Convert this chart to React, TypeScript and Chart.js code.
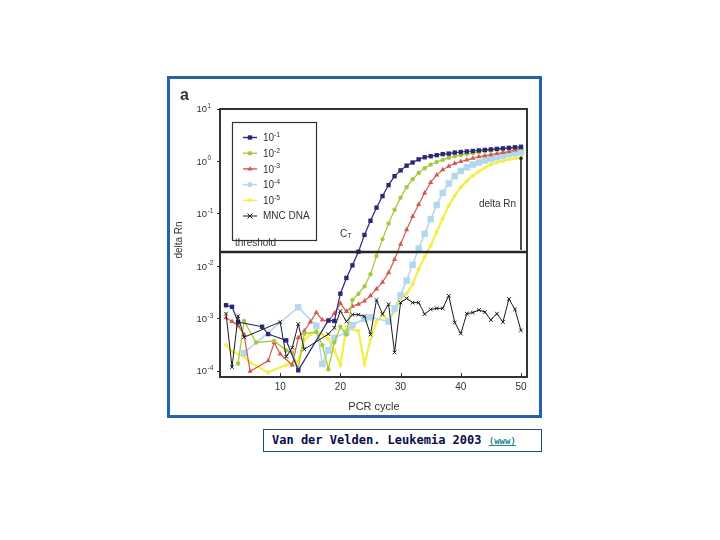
import React, { useEffect, useRef } from "react";
import { Chart, registerables } from "chart.js";

Chart.register(...registerables);

// PCR cycles (x categories)
const CYCLES = [
  1, 2, 3, 4, 5, 6, 7, 8, 9, 10, 11, 12, 13, 14, 15, 16, 17, 18, 19, 20, 21, 22, 23, 24, 25,
  26, 27, 28, 29, 30, 31, 32, 33, 34, 35, 36, 37, 38, 39, 40, 41, 42, 43, 44, 45, 46, 47, 48, 49, 50,
];

// log10(delta Rn), one per cycle (null = no marker)
const LOG_E1 = [
  -2.74, -2.77, -3.06, null, null, null, -3.15, -3.29, null, null, -3.41, null, -3.98, null, null, null, null, -3.03, -3.04, -2.52,
  -2.22, -1.98, -1.72, -1.4, -1.13, -0.88, -0.66, -0.45, -0.28, -0.17, -0.08, -0.02, 0.04, 0.08, 0.1, 0.12, 0.14, 0.15, 0.17, 0.18,
  0.19, 0.2, 0.21, 0.22, 0.23, 0.24, 0.25, 0.26, 0.27, 0.28,
];
const LOG_E2 = [
  null, null, -3.85, -3.04, null, -3.45, null, null, -3.42, null, -3.6, -3.64, -3.95, -3.28, null, -3.25, -3.5, -3.96, -3.45, -3.15,
  -3.3, -2.64, -2.52, -2.38, -2.15, -1.8, -1.48, -1.18, -0.92, -0.69, -0.49, -0.34, -0.22, -0.13, -0.06, -0.01, 0.03, 0.07, 0.1, 0.12,
  0.14, 0.16, 0.18, 0.2, 0.21, 0.22, 0.24, 0.25, 0.26, 0.27,
];
const LOG_E3 = [
  -2.98, -3.05, -3.13, -3.3, -4.0, null, null, -3.8, -3.45, -3.67, null, -3.88, -3.36, -3.23, -3.06, -2.88, -3.02, -3.04, -2.9, -2.7,
  -2.86, -2.76, -2.72, -2.66, -2.56, -2.43, -2.3, -2.12, -1.87, -1.58, -1.3, -1.05, -0.82, -0.6, -0.4, -0.26, -0.16, -0.09, -0.04, 0.0,
  0.03, 0.06, 0.09, 0.11, 0.13, 0.15, 0.17, 0.19, 0.22, 0.25,
];
const LOG_E4 = [
  null, null, null, -3.65, null, null, null, null, null, null, null, null, -2.78, null, null, -3.13, -3.86, -3.6, -3.36, null,
  -3.26, -3.12, null, -3.0, -2.97, null, null, -3.05, -2.8, -2.55, -2.27, -1.97, -1.66, -1.38, -1.1, -0.83, -0.6, -0.42, -0.28, -0.18,
  -0.11, -0.06, -0.02, 0.02, 0.05, 0.08, 0.11, 0.14, 0.16, 0.18,
];
const LOG_E5 = [
  -3.5, -3.62, null, -3.72, -3.83, null, null, -4.02, null, null, -3.88, null, -3.8, -3.4, -3.3, -3.23, -3.3, -3.38, -3.6, -3.88,
  -3.15, -3.2, -3.23, -3.86, -3.4, -3.05, -2.92, -3.04, -2.85, -2.6, -2.52, -2.34, -2.05, -1.82, -1.6, -1.35, -1.08, -0.84, -0.65, -0.49,
  -0.37, -0.27, -0.19, -0.12, -0.06, -0.02, 0.01, 0.04, 0.06, 0.09,
];
const LOG_MNC = [
  -2.9, -3.92, -2.95, -3.35, null, null, null, null, null, -3.06, -3.72, -3.55, -3.1, -3.58, null, null, null, -3.29, -3.17, -2.85,
  -3.05, -2.92, -2.92, -2.95, -3.3, -2.64, -2.91, -2.72, -3.64, -2.69, -2.61, -2.69, -2.69, -2.91, -2.82, -2.8, -2.8, -2.56, -3.07, -3.28,
  -2.9, -2.88, -2.83, -2.87, -3.02, -2.9, -3.06, -2.62, -2.82, -3.22,
];

const SERIES_LABELS = ["10-1", "10-2", "10-3", "10-4", "10-5", "MNC DNA"];
const SERIES_EXP = ["-1", "-2", "-3", "-4", "-5", ""];

const Y_TICKS = [1e-4, 1e-3, 1e-2, 1e-1, 1, 10];
const Y_TICK_EXP = ["-4", "-3", "-2", "-1", "0", "1"];
const X_TICKS = [10, 20, 30, 40, 50];

const THRESHOLD = 0.0189;
const DELTA_CYCLE = 50;
const DELTA_TOP = 1.2;

const STYLES = [
  { color: "#2c2878", shape: "rect", r: 3.1, lw: 1.2 },
  { color: "#a6c93c", shape: "circle", r: 2.2, lw: 1.3 },
  { color: "#d4594c", shape: "triangle", r: 3.0, lw: 1.2 },
  { color: "#b3d8ee", shape: "rect", r: 4.6, lw: 1.6 },
  { color: "#f2ee4a", shape: "circle", r: 2.0, lw: 2.2 },
  { color: "#1a1a1a", shape: "crossRot", r: 2.6, lw: 1 },
];

const LOGS = [LOG_E1, LOG_E2, LOG_E3, LOG_E4, LOG_E5, LOG_MNC];

function toPoints(logs: (number | null)[]) {
  return CYCLES.map((c, i) => ({ x: c, y: logs[i] === null ? null : Math.pow(10, logs[i] as number) }));
}

function marker(ctx: CanvasRenderingContext2D, shape: string, x: number, y: number, r: number, color: string) {
  ctx.save();
  ctx.fillStyle = color;
  ctx.strokeStyle = color;
  ctx.beginPath();
  if (shape === "rect") {
    const s = Math.SQRT1_2 * r;
    ctx.rect(x - s, y - s, 2 * s, 2 * s);
    ctx.fill();
  } else if (shape === "circle") {
    ctx.arc(x, y, r, 0, Math.PI * 2);
    ctx.fill();
  } else if (shape === "triangle") {
    ctx.moveTo(x, y - r);
    ctx.lineTo(x + r * 0.866, y + r * 0.5);
    ctx.lineTo(x - r * 0.866, y + r * 0.5);
    ctx.closePath();
    ctx.fill();
  } else if (shape === "crossRot") {
    const d = r * Math.SQRT1_2 * 1.2;
    ctx.lineWidth = 1;
    ctx.moveTo(x - d, y - d);
    ctx.lineTo(x + d, y + d);
    ctx.moveTo(x + d, y - d);
    ctx.lineTo(x - d, y + d);
    ctx.stroke();
  }
  ctx.restore();
}

const FONT = '"Liberation Sans", Arial, sans-serif';
const TEXT = "#333";

const decor = {
  id: "decor",
  afterDatasetsDraw(chart: any) {
    const { ctx, chartArea: a, scales } = chart;
    const x = scales.x;
    const y = scales.y;
    ctx.save();
    // threshold line
    const ty = y.getPixelForValue(THRESHOLD);
    ctx.strokeStyle = "#262626";
    ctx.lineWidth = 2.5;
    ctx.beginPath();
    ctx.moveTo(a.left, ty);
    ctx.lineTo(a.right, ty);
    ctx.stroke();
    // delta Rn bar
    const dx = x.getPixelForValue(DELTA_CYCLE);
    const dTop = y.getPixelForValue(DELTA_TOP);
    ctx.lineWidth = 1.6;
    ctx.strokeStyle = "#222";
    ctx.beginPath();
    ctx.moveTo(dx, dTop);
    ctx.lineTo(dx, ty - 2);
    ctx.moveTo(dx - 1.5, dTop + 2);
    ctx.lineTo(dx, dTop);
    ctx.lineTo(dx + 1.5, dTop + 2);
    ctx.stroke();
    // frame
    ctx.lineWidth = 2;
    ctx.strokeStyle = "#333";
    ctx.strokeRect(a.left, a.top, a.right - a.left, a.bottom - a.top);
    // inward x ticks
    ctx.lineWidth = 1;
    for (const t of X_TICKS) {
      const px = Math.round(x.getPixelForValue(t)) + 0.5;
      ctx.beginPath();
      ctx.moveTo(px, a.bottom);
      ctx.lineTo(px, a.bottom - 4);
      ctx.stroke();
    }
    // y tick labels (10 with exponent)
    ctx.fillStyle = TEXT;
    ctx.textBaseline = "middle";
    Y_TICKS.forEach((v, i) => {
      const py = y.getPixelForValue(v);
      ctx.font = `9.5px ${FONT}`;
      ctx.textAlign = "right";
      ctx.fillText("10", a.left - 13, py + 0.5);
      ctx.font = `6.5px ${FONT}`;
      ctx.textAlign = "left";
      ctx.fillText(Y_TICK_EXP[i], a.left - 12.5, py - 3);
    });
    // legend box
    const lx = 232, ltop = 122, lw = 84, lh = 118;
    ctx.fillStyle = "#fff";
    ctx.fillRect(lx, ltop, lw, lh);
    ctx.strokeStyle = "#333";
    ctx.lineWidth = 1.2;
    ctx.strokeRect(lx + 0.5, ltop + 0.5, lw, lh);
    SERIES_LABELS.forEach((lab, i) => {
      const st = STYLES[i];
      const ry = 137.5 + i * 15.7;
      ctx.strokeStyle = st.color;
      ctx.lineWidth = i === 5 ? 1 : 1.4;
      ctx.beginPath();
      ctx.moveTo(243, ry);
      ctx.lineTo(257, ry);
      ctx.stroke();
      marker(ctx, st.shape, 250, ry, st.shape === "crossRot" ? 3 : Math.min(st.r, 3.2), st.color);
      ctx.fillStyle = TEXT;
      ctx.textAlign = "left";
      ctx.textBaseline = "middle";
      if (SERIES_EXP[i]) {
        ctx.font = `10px ${FONT}`;
        ctx.fillText("10", 263, ry + 1);
        ctx.font = `7px ${FONT}`;
        ctx.fillText(SERIES_EXP[i], 274, ry - 2.5);
      } else {
        ctx.font = `10px ${FONT}`;
        ctx.fillText(lab, 263, ry + 0.5);
      }
    });
    // annotations
    ctx.fillStyle = TEXT;
    ctx.font = `10px ${FONT}`;
    ctx.textAlign = "left";
    ctx.fillText("threshold", 235, 243.5);
    ctx.fillText("C", 340, 234);
    ctx.font = `7px ${FONT}`;
    ctx.fillText("T", 347.5, 236.5);
    ctx.font = `10px ${FONT}`;
    ctx.textAlign = "center";
    ctx.fillText("delta Rn", 497.5, 204);
    ctx.font = `11px ${FONT}`;
    ctx.fillText("PCR cycle", 374, 406.5);
    ctx.save();
    ctx.translate(179, 240);
    ctx.rotate(-Math.PI / 2);
    ctx.font = `10px ${FONT}`;
    ctx.fillText("delta Rn", 0, 0);
    ctx.restore();
    ctx.font = `bold 16px ${FONT}`;
    ctx.textAlign = "left";
    ctx.fillText("a", 180, 96);
    ctx.restore();
  },
};

export default function App() {
  const ref = useRef<HTMLCanvasElement | null>(null);
  useEffect(() => {
    if (!ref.current) return;
    const datasets = LOGS.map((logs, i) => {
      const st = STYLES[i];
      return {
        label: SERIES_LABELS[i],
        data: toPoints(logs),
        borderColor: st.color,
        backgroundColor: st.color,
        borderWidth: st.lw,
        pointStyle: st.shape,
        pointRadius: st.r,
        pointBorderWidth: st.shape === "crossRot" ? 1 : 0,
        pointBorderColor: st.color,
        pointBackgroundColor: st.color,
        spanGaps: true,
        tension: 0,
        order: i === 5 ? 0 : i + 1,
      };
    });
    const chart = new Chart(ref.current, {
      type: "line",
      data: { datasets: datasets as any },
      options: {
        animation: false,
        responsive: false,
        devicePixelRatio: 1,
        layout: { padding: { left: 200, right: 193, top: 109, bottom: 133 } },
        plugins: { legend: { display: false }, tooltip: { enabled: false } },
        scales: {
          x: {
            type: "linear",
            min: 0,
            max: 51,
            afterFit: (s: any) => {
              s.height = 30;
            },
            afterBuildTicks: (s: any) => {
              s.ticks = X_TICKS.map((v) => ({ value: v }));
            },
            ticks: {
              color: TEXT,
              font: { family: FONT, size: 10 },
              padding: 4,
              maxRotation: 0,
              callback: (v: any) => String(v),
            },
            grid: { display: false, drawTicks: false },
            border: { display: false },
          },
          y: {
            type: "logarithmic",
            min: 7.8e-5,
            max: 10,
            afterFit: (s: any) => {
              s.width = 20;
            },
            afterBuildTicks: (s: any) => {
              s.ticks = Y_TICKS.map((v) => ({ value: v }));
            },
            ticks: { display: false },
            grid: { display: true, drawOnChartArea: false, drawTicks: true, tickLength: 3, color: "#333" },
            border: { display: false },
          },
        },
      },
      plugins: [decor],
    });
    return () => chart.destroy();
  }, []);

  return (
    <div style={{ position: "fixed", left: 0, top: 0, width: 720, height: 540, background: "#fff" }}>
      <div
        style={{
          position: "absolute",
          left: 167,
          top: 76,
          width: 375,
          height: 342,
          boxSizing: "border-box",
          border: "3px solid #2363aa",
        }}
      />
      <div
        style={{
          position: "absolute",
          left: 263,
          top: 429,
          width: 279,
          height: 23,
          boxSizing: "border-box",
          border: "1px solid #1d4f6e",
          fontFamily: '"DejaVu Sans Mono", monospace',
          fontSize: 12,
          fontWeight: "bold",
          color: "#0b0b4a",
          lineHeight: "21px",
          paddingLeft: 8,
          whiteSpace: "nowrap",
        }}
      >
        Van der Velden. Leukemia 2003{" "}
        <span style={{ fontSize: 9, color: "#1f8a8a", textDecoration: "underline" }}>(www)</span>
      </div>
      <canvas
        ref={ref}
        width={720}
        height={540}
        style={{ position: "absolute", left: 0, top: 0, width: 720, height: 540 }}
      />
    </div>
  );
}
